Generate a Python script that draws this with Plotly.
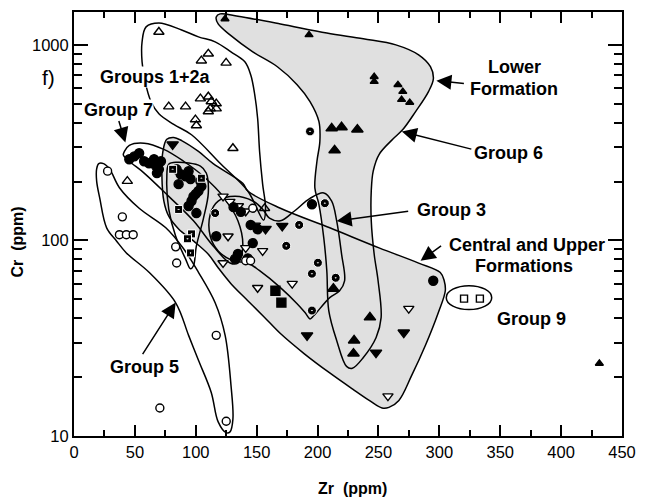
import plotly.graph_objects as go

# ---------------- sample data: Zr (ppm) vs Cr (ppm) ----------------
# Groups 1+2a (open triangles)
g12_zr = [69.7, 110.3, 104.6, 124.9, 77.8, 91.6, 103.8, 110.3, 112.7, 116.8, 111.9,
          116.8, 110.3, 99.7, 100.5, 130.5, 43.8, 156.5]
g12_cr = [1164, 900, 830, 809, 483, 483, 531, 543, 513, 501, 472,
          472, 456, 415, 387, 296, 201, 146]

# Lower Formation / Group 6 (filled triangles), small and large symbols
g6s_zr = [124.0, 193.0, 246.5, 246.5, 266.0, 270.0, 269.0, 275.7, 431.4]
g6s_cr = [1356, 1125, 687, 649, 625, 577, 525, 507, 23.5]
g6l_zr = [211.6, 219.7, 232.7, 214.0, 213.0, 243.0, 230.0, 229.5]
g6l_cr = [374, 379, 369, 289, 56.6, 40.4, 30.8, 26.4]

# filled inverted triangles
fdn_zr = [191.4, 270.8, 248.0, 171.0, 157.3, 148.4, 81.0]
fdn_cr = [32.7, 33.8, 26.7, 118.6, 114.6, 119.0, 310.0]

# open inverted triangles
odn_zr = [150.8, 179.2, 274.9, 257.8, 122.4, 141.0, 126.5, 141.0, 154.9, 122.4, 128.0, 135.0]
odn_cr = [57.3, 60.1, 44.8, 16.0, 168, 141, 105, 91.6, 88.4, 76.7, 158, 150]

# filled circles (Group 7 and neighbours)
fci_zr = [45.4, 53.5, 57.6, 61.6, 65.7, 67.3, 69.7, 71.4, 68.1, 49.5,
          84.3, 87.6, 91.6, 94.1, 95.7, 85.9, 103.8, 104.6, 102.2, 100.0, 98.1, 96.5, 94.1, 100.5,
          116.8, 134.6, 132.2, 142.7, 146.8, 150.8, 145.1, 295.0, 195.4, 131.0, 137.0]
fci_cr = [260, 279, 254, 248, 260, 240, 231, 254, 221, 269,
          231, 218, 213, 226, 206, 194, 201, 189, 179, 173, 168, 159, 150, 138,
          105, 85.3, 80.5, 81.0, 96.9, 114, 120, 62.2, 153, 148, 140]

# half-filled circles
hci_zr = [193.8, 206.0, 184.9, 174.3, 200.3, 195.4, 214.9, 195.4, 115.9]
hci_cr = [361, 155, 120, 93.8, 76.9, 67.6, 64.4, 43.8, 138]

# open circles (Group 5)
oci_zr = [27.6, 39.7, 37.3, 43.0, 48.6, 83.5, 84.3, 116.8, 70.5, 125.0, 146.8, 141.0, 145.0]
oci_cr = [226, 132, 107, 107, 107, 92.7, 76.7, 32.7, 13.9, 11.9, 146, 78.7, 78.7]

# squares
fsq_zr = [165.4, 170.3]
fsq_cr = [55.3, 48.1]
hsq_zr = [81.0, 85.9, 104.6, 96.5, 93.2, 95.7]
hsq_cr = [231, 144, 208, 108, 102, 86.3]
g9_zr = [320.3, 333.3]
g9_cr = [50.4, 50.4]

# ---------------- field boundaries ----------------
g6_zr = [228.6, 237.6, 248.1, 252.2, 249.7, 246.5, 244.1, 244.1, 245.7, 250.5, 261.9, 270.0,
         280.5, 291.1, 295.1, 292.7, 283.0, 264.3, 237.6, 207.6, 169.5, 134.6, 120.0,
         116.8, 118.4, 128.1, 146.8, 167.0, 183.2, 193.8, 201.1, 201.9, 199.5, 197.8,
         201.1, 205.1, 207.6, 209.2, 215.7, 223.8]
g6_cr = [22.2, 25.2, 31.9, 40.3, 62.2, 85.0, 126, 179, 226, 275, 330, 369,
         456, 577, 671, 773, 889, 1000, 1074, 1150, 1279, 1400, 1440,
         1390, 1279, 1125, 921, 773, 626, 513, 406, 321, 254, 185,
         153, 103, 70.0, 43.8, 30.8, 22.7]

cu_zr = [300.8, 304.0, 304.9, 299.2, 288.6, 277.3, 266.8, 258.6, 253.0, 242.4, 228.6, 210.0,
         188.9, 169.5, 156.5, 142.7, 128.9, 118.4, 110.3, 98.1, 85.9, 77.8, 73.8, 72.2,
         73.0, 76.2, 81.9, 88.4, 102.2, 114.3, 138.6, 142.7, 169.5, 210.0, 250.5, 283.0]
cu_cr = [68.5, 62.2, 55.3, 42.8, 29.1, 20.4, 15.2, 14.0, 13.9, 15.2, 17.4, 21.0,
         26.4, 33.4, 40.4, 49.2, 60.1, 72.5, 85.0, 99.4, 114.5, 133, 159, 213,
         285, 329, 336, 324, 285, 247, 196, 179, 146, 116, 91.6, 76.6]

g12b_zr = [155.7, 142.7, 120.8, 96.5, 81.9, 69.7, 63.2, 58.4, 55.9, 55.9, 59.2, 69.7,
           88.4, 102.2, 115.9, 128.9, 140.3, 145.1, 148.4, 150.8, 152.4, 154.9, 157.3]
g12b_cr = [127, 179, 245, 347, 392, 444, 513, 648, 819, 1036, 1236, 1295,
           1192, 1099, 1036, 921, 819, 703, 557, 420, 285, 194, 146]

g7_zr = [134.6, 128.1, 114.3, 98.1, 77.8, 57.6, 45.4, 40.5, 41.4, 45.4, 57.6, 73.8,
         90.0, 106.2, 122.4, 134.6, 138.6]
g7_cr = [76.6, 76.7, 93.7, 126, 168, 221, 254, 274, 285, 306, 314, 292,
         254, 213, 168, 126, 93.7]

inner_zr = [95.7, 91.6, 83.5, 77.8, 76.2, 77.8, 84.3, 103.8, 108.6, 110.3, 106.2, 100.5, 98.1]
inner_cr = [71.6, 80.5, 105, 144.5, 206, 245, 251, 240, 221, 175, 129, 93.7, 74.2]

g3_zr = [193.8, 189.7, 183.2, 169.5, 152.4, 142.7, 130.5, 118.4, 111.9, 111.9, 118.4, 132.2,
         146.8, 154.9, 160.5, 169.5, 180.8, 193.8, 205.1, 211.6, 215.7, 219.7, 222.2,
         218.1, 210.0, 197.0]
g3_cr = [39.7, 42.8, 47.5, 57.4, 70.0, 76.7, 78.7, 88.4, 105, 136, 159, 168,
         159, 144.5, 130, 126, 141, 164, 175, 159, 126, 85.3, 62.2,
         55.3, 51.0, 41.3]

g5_zr = [124.9, 118.4, 112.7, 102.2, 94.1, 83.5, 61.6, 43.0, 34.9, 26.8, 21.1, 18.6,
         18.6, 20.3, 24.3, 29.2, 37.3, 53.5, 75.4, 90.0, 102.2, 115.9, 124.1, 128.9,
         130.5, 128.1]
g5_cr = [10.4, 11.8, 16.7, 24.4, 32.7, 48.0, 68.7, 86.3, 99.4, 116, 165, 201,
         232, 247, 247, 232, 186, 146, 116, 90.6, 68.7, 48.0, 32.7, 18.2,
         12.2, 10.5]

g9_box_zr = [305.7, 343.0]
g9_box_cr = [44.3, 58.7]

GRAY = "#e0e0e0"
FAMILY = "Liberation Sans, Arial, sans-serif"
fig = go.Figure()


def boundary(zr, cr, fill=None, line=True):
    fig.add_trace(go.Scatter(
        x=zr + [zr[0]], y=cr + [cr[0]], mode="lines",
        line=dict(color="black" if line else "rgba(0,0,0,0)", width=1.5,
                  shape="spline", smoothing=1.0),
        fill="toself" if fill else "none", fillcolor=fill,
        hoverinfo="skip", showlegend=False))


# shaded fields first, then every outline on top
boundary(g6_zr, g6_cr, fill=GRAY, line=False)
boundary(cu_zr, cu_cr, fill=GRAY, line=False)
for zr, cr in [(g6_zr, g6_cr), (cu_zr, cu_cr), (g12b_zr, g12b_cr), (g7_zr, g7_cr),
               (inner_zr, inner_cr), (g3_zr, g3_cr), (g5_zr, g5_cr)]:
    boundary(zr, cr)

fig.add_shape(type="circle", xref="x", yref="y",
              x0=g9_box_zr[0], x1=g9_box_zr[1], y0=g9_box_cr[0], y1=g9_box_cr[1],
              line=dict(color="black", width=1.5))


def pts(zr, cr, symbol, size, color="black", lcolor="black", lw=1.4):
    fig.add_trace(go.Scatter(
        x=zr, y=cr, mode="markers",
        marker=dict(symbol=symbol, size=size, color=color,
                    line=dict(color=lcolor, width=lw)),
        showlegend=False, hoverinfo="x+y"))


pts(g12_zr, g12_cr, "triangle-up-open", 9)
pts(g6s_zr, g6s_cr, "triangle-up", 7)
pts(g6l_zr, g6l_cr, "triangle-up", 10)
pts(fdn_zr, fdn_cr, "triangle-down", 10)
pts(odn_zr, odn_cr, "triangle-down", 9, color="white")
pts(fci_zr, fci_cr, "circle", 9)
pts(hci_zr, hci_cr, "circle-dot", 9, color="black", lcolor="white", lw=1)
pts(oci_zr, oci_cr, "circle", 8, color="white")
pts(fsq_zr, fsq_cr, "square", 9)
pts(hsq_zr, hsq_cr, "square-dot", 8, color="black", lcolor="white", lw=1)
pts(g9_zr, g9_cr, "square", 7, color="white")


def label(text, xp, yp, size=18, bold=True, angle=0, bg=None):
    fig.add_annotation(text=("<b>%s</b>" % text) if bold else text,
                       xref="paper", yref="paper", x=xp, y=yp,
                       xanchor="center", yanchor="middle", textangle=angle,
                       bgcolor=bg, borderpad=0,
                       showarrow=False, font=dict(family=FAMILY, size=size, color="black"))


def arrow(zr, log_cr, ax, ay):
    fig.add_annotation(x=zr, y=log_cr, xref="x", yref="y", ax=ax, ay=ay,
                       text="", showarrow=True, arrowhead=2, arrowsize=2.0,
                       arrowwidth=1.5, arrowcolor="black", standoff=0)


label("Groups 1+2a", 0.1495, 0.847, bg="white")
label("Group 7", 0.0811, 0.770, bg="white")
label("Lower", 0.8036, 0.871)
label("Formation", 0.8036, 0.819)
label("Group 6", 0.7928, 0.667)
label("Group 3", 0.688, 0.533)
label("Central and Upper", 0.827, 0.451)
label("Formations", 0.8216, 0.401)
label("Group 9", 0.834, 0.275)
label("Group 5", 0.128, 0.162)

arrow(42.2, 2.501, -7, -23)
arrow(297.6, 2.817, 29, 3)
arrow(269.2, 2.557, 71, 18)
arrow(215.7, 2.099, 73, -10)
arrow(284.6, 1.896, 22, -16)
arrow(83.5, 1.682, -34, 53)

label("f)", -0.0468, 0.845, size=21, bold=False)
label("Zr  (ppm)", 0.508, -0.124, size=16)
label("Cr  (ppm)", -0.1027, 0.458, size=16, angle=-90)

TICKFONT = dict(family=FAMILY, size=16.5, color="black")
fig.update_xaxes(range=[0, 450], tickvals=[0, 50, 100, 150, 200, 250, 300, 350, 400, 450],
                 ticks="inside", ticklen=11, tickwidth=2, tickcolor="black",
                 minor=dict(ticks="inside", ticklen=6, tickwidth=2, tickcolor="black",
                            tickvals=[25, 75, 125, 175, 225, 275, 325, 375, 425]),
                 showline=True, linewidth=2, linecolor="black", mirror="allticks",
                 showgrid=False, zeroline=False, tickfont=TICKFONT)
fig.update_yaxes(type="log", range=[1, 3.168], tickvals=[10, 100, 1000],
                 ticktext=["10", "100", "1000"],
                 ticks="inside", ticklen=14, tickwidth=2, tickcolor="black",
                 minor=dict(ticks="inside", ticklen=8, tickwidth=2, tickcolor="black",
                            tickvals=[20, 30, 40, 50, 60, 70, 80, 90,
                                      200, 300, 400, 500, 600, 700, 800, 900]),
                 showline=True, linewidth=2, linecolor="black", mirror="allticks",
                 showgrid=False, zeroline=False, tickfont=TICKFONT)

fig.update_layout(width=646, height=504, margin=dict(l=74, r=17, t=10, b=68),
                  plot_bgcolor="white", paper_bgcolor="white", showlegend=False)

fig.write_html("out.html")
